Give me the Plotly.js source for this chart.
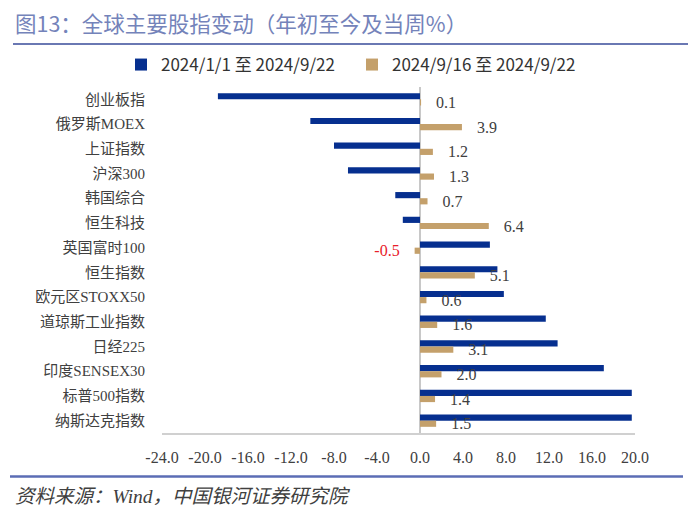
<!DOCTYPE html>
<html>
<head>
<meta charset="utf-8">
<script src="https://cdn.plot.ly/plotly-3.0.1.min.js"></script>
<style>
html,body{margin:0;padding:0;background:#fff;}
#chart{width:700px;height:524px;}
</style>
</head>
<body>
<div id="chart"></div>
<script>
const categories = ['创业板指','俄罗斯MOEX','上证指数','沪深300','韩国综合','恒生科技','英国富时100','恒生指数','欧元区STOXX50','道琼斯工业指数','日经225','印度SENSEX30','标普500指数','纳斯达克指数'];
const ytdValues = [-18.8,-10.2,-8.0,-6.7,-2.3,-1.6,6.5,7.2,7.8,11.7,12.8,17.1,19.7,19.7];
const weekValues = [0.1,3.9,1.2,1.3,0.7,6.4,-0.5,5.1,0.6,1.6,3.1,2.0,1.4,1.5];
const seriesNames = ['2024/1/1 至 2024/9/22','2024/9/16 至 2024/9/22'];
const xTicks = [-24,-20,-16,-12,-8,-4,0,4,8,12,16,20];

const serif = '"Liberation Serif", "Noto Sans CJK SC", serif';
const sans = '"Noto Sans CJK SC", "Noto Sans", sans-serif';

// plot area geometry (px) used to place decorations in paper coords
const L = 162, R = 635, T = 87, B = 433;
const px = x => (x - L) / (R - L);
const py = y => (B - y) / (B - T);

const weekText = weekValues.map(v => v < 0 ? v.toFixed(1) + '\u2002 ' : '\u2002 ' + v.toFixed(1));
const weekColors = weekValues.map(v => v < 0 ? '#e8202a' : '#404040');

const traces = [
  {
    type: 'bar', orientation: 'h', name: seriesNames[0],
    y: categories, x: ytdValues,
    marker: {color: '#062f8f'},
    hoverinfo: 'x+y'
  },
  {
    type: 'bar', orientation: 'h', name: seriesNames[1],
    y: categories, x: weekValues,
    marker: {color: '#c4a06b'},
    text: weekText, textposition: 'outside', constraintext: 'none', cliponaxis: false,
    textfont: {family: serif, size: 16, color: weekColors},
    hoverinfo: 'x+y'
  }
];

const layout = {
  width: 700, height: 524,
  margin: {l: L, r: 700 - R, t: T, b: 524 - B, pad: 0},
  paper_bgcolor: '#ffffff', plot_bgcolor: '#ffffff',
  barmode: 'group', bargap: 0.5, bargroupgap: 0,
  showlegend: true,
  legend: {
    orientation: 'h', x: px(121), xanchor: 'left', y: py(65), yanchor: 'middle',
    font: {family: sans, size: 17, color: '#333333'},
    itemwidth: 30, traceorder: 'normal', bgcolor: 'rgba(0,0,0,0)',
    entrywidth: 186, entrywidthmode: 'pixels'
  },
  title: {
    text: '图13：全球主要股指变动（年初至今及当周%）',
    x: 15 / 700, xanchor: 'left', xref: 'container',
    y: 1 - 24 / 524, yanchor: 'middle', yref: 'container',
    font: {family: sans, size: 21.5, color: '#7483ba'}
  },
  xaxis: {
    range: [-24, 20], tickvals: xTicks, ticktext: xTicks.map(v => v.toFixed(1)),
    showgrid: false, zeroline: true, zerolinecolor: '#c8c8c8', zerolinewidth: 1.5,
    showline: true, linecolor: '#d0d0d0', linewidth: 1.5,
    ticks: '', ticklabelstandoff: 9,
    tickfont: {family: serif, size: 16, color: '#404040'},
    fixedrange: true
  },
  yaxis: {
    type: 'category', autorange: 'reversed',
    showgrid: false, zeroline: false, showline: false, ticks: '',
    ticklabelstandoff: 16,
    tickfont: {family: serif, size: 15, color: '#404040'},
    fixedrange: true
  },
  shapes: [
    {type: 'line', xref: 'paper', yref: 'paper', x0: px(13), x1: px(688), y0: py(44), y1: py(44),
     line: {color: '#6a78b3', width: 2}},
    {type: 'line', xref: 'paper', yref: 'paper', x0: px(10), x1: px(683), y0: py(476.5), y1: py(476.5),
     line: {color: '#5b6db5', width: 2.5}}
  ],
  annotations: [
    {xref: 'paper', yref: 'paper', x: px(13), y: py(496), xanchor: 'left', yanchor: 'middle',
     text: '<i>资料来源：Wind，中国银河证券研究院</i>', showarrow: false,
     font: {family: serif, size: 19.5, color: '#404040'}}
  ]
};

Plotly.newPlot('chart', traces, layout, {displayModeBar: false, staticPlot: true});
</script>
</body>
</html>
